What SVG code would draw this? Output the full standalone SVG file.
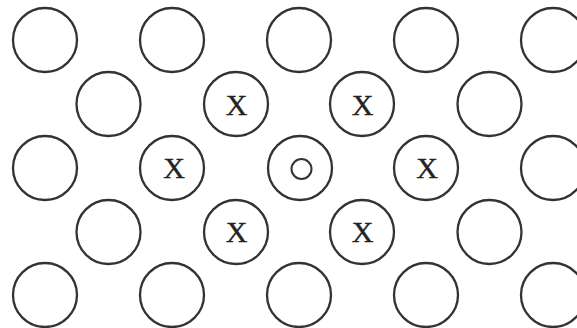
<svg xmlns="http://www.w3.org/2000/svg" width="577" height="328" viewBox="0 0 577 328">
<style>
.a{fill:none;stroke:#333;stroke-width:2.3}
.s{fill:none;stroke:#333;stroke-width:2}
.x{font-family:"Liberation Serif",serif;font-size:30px;fill:#222;stroke:#222;stroke-width:0.4;text-anchor:middle}
</style>
<defs><circle id="c" r="32" class="a"/></defs>
<rect width="577" height="328" fill="#fff"/>
<g id="row1">
<use href="#c" x="45" y="40"/><use href="#c" x="172" y="40"/><use href="#c" x="299" y="40"/><use href="#c" x="426" y="40"/><use href="#c" x="553" y="40"/>
</g>
<g id="row2">
<use href="#c" x="108.5" y="104"/>
<g id="x1"><use href="#c" x="236" y="104"/><text class="x" x="236.5" y="114.5">X</text></g>
<g id="x2"><use href="#c" x="362" y="104"/><text class="x" x="362.5" y="114.5">X</text></g>
<use href="#c" x="489.5" y="104"/>
</g>
<g id="row3">
<use href="#c" x="45" y="168"/>
<g id="x3"><use href="#c" x="172" y="168"/><text class="x" x="174" y="177.5">X</text></g>
<g id="center"><use href="#c" x="300" y="168"/><circle cx="301.5" cy="169" r="10" class="s"/></g>
<g id="x4"><use href="#c" x="426" y="168"/><text class="x" x="427" y="177.5">X</text></g>
<use href="#c" x="553" y="168"/>
</g>
<g id="row4">
<use href="#c" x="108.5" y="232"/>
<g id="x5"><use href="#c" x="236" y="232"/><text class="x" x="236.5" y="241.5">X</text></g>
<g id="x6"><use href="#c" x="362" y="232"/><text class="x" x="362.5" y="241.5">X</text></g>
<use href="#c" x="489.5" y="232"/>
</g>
<g id="row5">
<use href="#c" x="45" y="295"/><use href="#c" x="172" y="295"/><use href="#c" x="299" y="295"/><use href="#c" x="426" y="295"/><use href="#c" x="553" y="295"/>
</g>
<g id="connectors"/>
</svg>
